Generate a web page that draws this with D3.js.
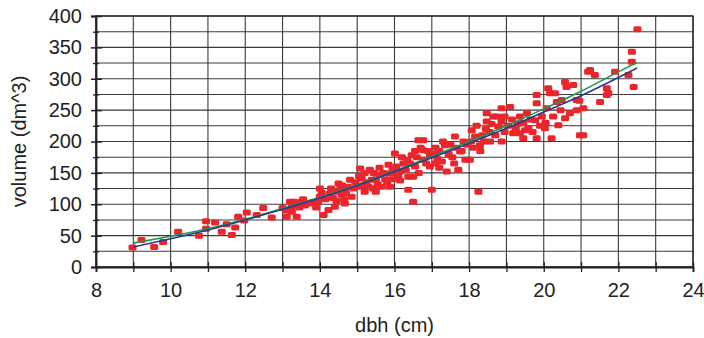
<!DOCTYPE html>
<html><head><meta charset="utf-8">
<script src="https://cdn.jsdelivr.net/npm/d3@7"></script>
<style>
html,body{margin:0;padding:0;background:#fff;}
text{font-family:"Liberation Sans",Arial,Helvetica,sans-serif;fill:#222;}
</style></head>
<body>
<svg id="c" width="704" height="338"></svg>
<script>
// dbh (cm), volume (dm^3) scatter points
const dbh = [8.98,9.22,9.56,9.80,10.2,10.76,10.95,10.95,11.19,11.37,11.5,11.64,11.73,11.81,12.04,11.97,12.31,12.48,12.71,13.0,13.2,13.11,13.38,13.38,
13.25,13.3,13.5,13.74,14.0,14.0,14.1,14.23,14.27,14.5,14.58,14.67,14.81,14.85,15.08,15.12,15.34,15.39,15.43,15.61,15.66,15.84,15.88,15.88,16.01,16.15,16.24,16.37,16.37,16.46,16.5,16.64,
16.42,16.5,16.77,16.77,16.77,16.95,17.0,17.09,17.27,17.35,17.4,17.62,17.71,17.76,17.85,17.9,18.02,18.07,18.16,18.25,18.29,18.47,18.47,18.56,18.65,18.78,18.87,18.87,18.87,19.1,19.18,19.36,
19.36,19.59,19.81,19.81,19.77,19.81,20.03,20.08,20.12,20.17,20.21,20.3,20.35,20.39,20.48,20.57,20.57,20.61,20.79,20.88,20.88,20.97,21.06,21.06,21.19,21.37,21.51,21.69,21.73,21.91,22.27,22.36,22.36,22.41,21.24,21.69,22.51,
13.1,13.25,13.45,13.6,13.8,13.9,13.55,13.95,
14.05,14.15,14.3,14.35,14.4,14.45,14.55,14.6,14.7,14.75,14.9,14.95,14.4,14.65,
15.0,15.05,15.15,15.2,15.25,15.3,15.45,15.5,15.55,15.6,15.7,15.75,15.8,15.95,15.95,15.2,15.5,
16.05,16.1,16.2,16.3,16.35,16.55,16.6,16.65,16.7,16.85,16.9,16.95,16.15,16.55,
17.05,17.1,17.15,17.2,17.3,17.45,17.5,17.55,17.65,17.8,17.95,17.2,17.6,
18.05,18.1,18.2,18.35,18.4,18.45,18.55,18.6,18.7,18.75,18.95,18.95,18.3,
19.05,19.15,19.25,19.3,19.45,19.5,19.55,19.65,19.7,19.9,19.95,19.45,
20.05,20.25,20.45,20.7,20.95];
const volume = [31,43,32,40,56,50,73,61,71,56,68,51,63,80,87,74,83,94,79,94,104,80,80,99,
97,104,104,101,125,112,83,91,117,133,115,101,139,112,157,141,155,139,125,147,128,163,149,128,181,152,165,144,123,178,104,202,
165,144,202,186,171,178,123,165,168,194,152,208,155,184,200,171,171,218,208,120,194,245,232,200,240,224,253,232,200,255,213,240,
213,221,274,261,234,205,221,253,285,277,205,277,263,226,266,295,237,287,290,266,250,210,253,210,311,306,263,285,277,311,306,327,343,287,314,274,379,
90,88,95,98,103,95,108,104,
118,108,125,110,120,105,125,130,118,128,125,135,96,108,
128,145,130,150,135,128,150,140,132,158,150,140,135,155,140,120,120,
160,145,175,155,170,160,175,150,190,165,185,160,138,185,
180,190,172,185,200,180,195,175,190,185,195,158,165,
200,190,225,210,200,220,215,228,210,240,215,240,185,
225,235,220,228,230,218,245,235,215,225,240,205,
230,240,250,245,265];

// fitted curves
const fitDbh   = [9,10,11,12,13,14,15,16,17,18,19,20,21,22,22.5];
const fitGreen = [38,49,61,76,93,111,131,153,176,200,225,252,280,311,326];
const fitBlue  = [32,45,59,75,92,110,130,152,174,197,221,247,273,302,317];

const xTicks = [8,10,12,14,16,18,20,22,24];
const yTicks = [0,50,100,150,200,250,300,350,400];

const svg = d3.select("#c");
const L=96, R=693, T=16, B=267;
const x = d3.scaleLinear().domain([8,24]).range([L,R]);
const y = d3.scaleLinear().domain([0,400]).range([B,T]);

// grid
const g = svg.append("g");
g.selectAll("line.v").data(d3.range(8,25,1)).enter().append("line")
  .attr("x1",d=>x(d)).attr("x2",d=>x(d)).attr("y1",T).attr("y2",B)
  .attr("stroke","#3a3a3a").attr("stroke-width",1.1);
g.selectAll("line.h").data(d3.range(0,401,25)).enter().append("line")
  .attr("x1",L).attr("x2",R).attr("y1",d=>y(d)).attr("y2",d=>y(d))
  .attr("stroke","#3a3a3a").attr("stroke-width",1.1);
// border
svg.append("rect").attr("x",L).attr("y",T).attr("width",R-L).attr("height",B-T)
  .attr("fill","none").attr("stroke","#222").attr("stroke-width",1.3);

// points
const pts = dbh.map((d,i)=>({d, v: volume[i]}));
svg.append("g").selectAll("rect").data(pts).enter().append("rect")
  .attr("x",p=>x(p.d)-4).attr("y",p=>y(p.v)-3)
  .attr("width",8).attr("height",6).attr("rx",1.5)
  .attr("fill","#ea252b");

// fitted lines
const line = d3.line().x(p=>x(p[0])).y(p=>y(p[1])).curve(d3.curveMonotoneX);
svg.append("path").datum(fitDbh.map((d,i)=>[d,fitGreen[i]]))
  .attr("d",line).attr("fill","none").attr("stroke","#1a9a48").attr("stroke-width",1.6);
svg.append("path").datum(fitDbh.map((d,i)=>[d,fitBlue[i]]))
  .attr("d",line).attr("fill","none").attr("stroke","#2e3892").attr("stroke-width",1.6);

// y axis
const yAx = svg.append("g").attr("transform",`translate(${L},0)`)
  .call(d3.axisLeft(y).tickValues(yTicks).tickSize(5).tickPadding(9));
yAx.select(".domain").attr("stroke","#222").attr("stroke-width",1.8);
yAx.selectAll(".tick line").attr("x1",-5).attr("x2",6).attr("stroke","#222").attr("stroke-width",1.5);
yAx.selectAll(".tick text").attr("font-size",20).attr("font-family","Liberation Sans, Arial, sans-serif").attr("fill","#222");
const yMin = svg.append("g").attr("transform",`translate(${L},0)`)
  .call(d3.axisLeft(y).tickValues(d3.range(25,400,50)).tickSize(3).tickFormat(""));
yMin.select(".domain").remove();
yMin.selectAll(".tick line").attr("x1",-3).attr("x2",3).attr("stroke","#222").attr("stroke-width",1.3);

// x axis
const xAx = svg.append("g").attr("transform",`translate(0,${B})`)
  .call(d3.axisBottom(x).tickValues(xTicks).tickSize(5).tickPadding(11));
xAx.select(".domain").attr("stroke","#222").attr("stroke-width",1.8);
xAx.selectAll(".tick line").attr("y1",-5).attr("y2",5).attr("stroke","#222").attr("stroke-width",1.3);
xAx.selectAll(".tick text").attr("font-size",20).attr("font-family","Liberation Sans, Arial, sans-serif").attr("fill","#222");
const xMin = svg.append("g").attr("transform",`translate(0,${B})`)
  .call(d3.axisBottom(x).tickValues(d3.range(9,24,2)).tickSize(5).tickFormat(""));
xMin.select(".domain").remove();
xMin.selectAll(".tick line").attr("y1",-5).attr("y2",5).attr("stroke","#222").attr("stroke-width",1.3);

// titles
svg.append("text").attr("x",(L+R)/2).attr("y",332).attr("text-anchor","middle")
  .attr("font-size",20).text("dbh (cm)");
svg.append("text").attr("transform",`translate(26,${(T+B)/2}) rotate(-90)`)
  .attr("text-anchor","middle").attr("font-size",20).text("volume (dm^3)");
</script>
</body></html>
